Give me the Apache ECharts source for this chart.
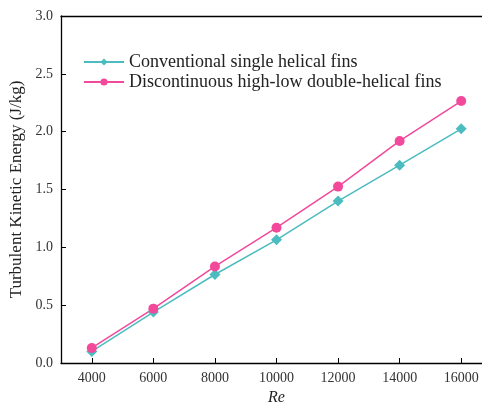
<!DOCTYPE html>
<html><head><meta charset="utf-8">
<script src="https://cdn.jsdelivr.net/npm/echarts@6/dist/echarts.min.js"></script>
<style>html,body{margin:0;padding:0;background:#fff}#c{width:482px;height:412px}</style>
</head><body><div id="c"></div>
<script>
const reValues = [4000, 6000, 8000, 10000, 12000, 14000, 16000];
const conventional = [0.10, 0.44, 0.765, 1.065, 1.40, 1.71, 2.025];
const discontinuous = [0.13, 0.47, 0.835, 1.17, 1.525, 1.92, 2.265];
const seriesNames = ['Conventional single helical fins', 'Discontinuous high-low double-helical fins'];
const xAxisName = 'Re';
const yAxisName = 'Turbulent Kinetic Energy (J/kg)';
const font = '"Liberation Serif", "Times New Roman", serif';
const chart = echarts.init(document.getElementById('c'));
chart.setOption({
  animation: false,
  textStyle: {fontFamily: font},
  grid: {left: 61, top: 16, width: 431, height: 347, outerBoundsMode: 'none', containLabel: false},
  legend: {
    left: 78, top: 48, orient: 'vertical', itemGap: 2, itemWidth: 40, itemHeight: 9,
    textStyle: {fontFamily: font, fontSize: 18, color: '#222'},
    data: seriesNames
  },
  xAxis: [{
    type: 'value', min: 3000, max: 17000,
    name: xAxisName, nameLocation: 'middle', nameGap: 26,
    nameTextStyle: {fontFamily: font, fontStyle: 'italic', fontSize: 16, color: '#222'},
    axisLine: {show: true, lineStyle: {color: '#000', width: 1.3}},
    axisTick: {show: true, inside: true, length: 5, lineStyle: {color: '#000'}, customValues: reValues},
    axisLabel: {fontFamily: font, fontSize: 14, color: '#333', margin: 8, customValues: reValues,
      formatter: v => String(v)},
    splitLine: {show: false}
  }, {
    type: 'value', position: 'top', min: 3000, max: 17000,
    axisLine: {show: true, onZero: false, lineStyle: {color: '#000', width: 1.3}},
    axisTick: {show: false}, axisLabel: {show: false}, splitLine: {show: false}
  }],
  yAxis: {
    type: 'value', min: 0, max: 3, interval: 0.5,
    name: yAxisName, nameLocation: 'middle', nameGap: 28,
    nameTextStyle: {fontFamily: font, fontSize: 17, color: '#222'},
    axisLine: {show: true, lineStyle: {color: '#000', width: 1.3}},
    axisTick: {show: true, inside: true, length: 5, lineStyle: {color: '#000'}},
    axisLabel: {fontFamily: font, fontSize: 14, color: '#333', margin: 8, formatter: v => v.toFixed(1)},
    splitLine: {show: false}
  },
  series: [
    {name: seriesNames[0], type: 'line', data: reValues.map((x, i) => [x, conventional[i]]),
      symbol: 'diamond', symbolSize: 11, color: '#4bbcc0', lineStyle: {width: 1.5}},
    {name: seriesNames[1], type: 'line', data: reValues.map((x, i) => [x, discontinuous[i]]),
      symbol: 'circle', symbolSize: 10, color: '#f2499b', lineStyle: {width: 1.5}}
  ]
});
</script></body></html>
